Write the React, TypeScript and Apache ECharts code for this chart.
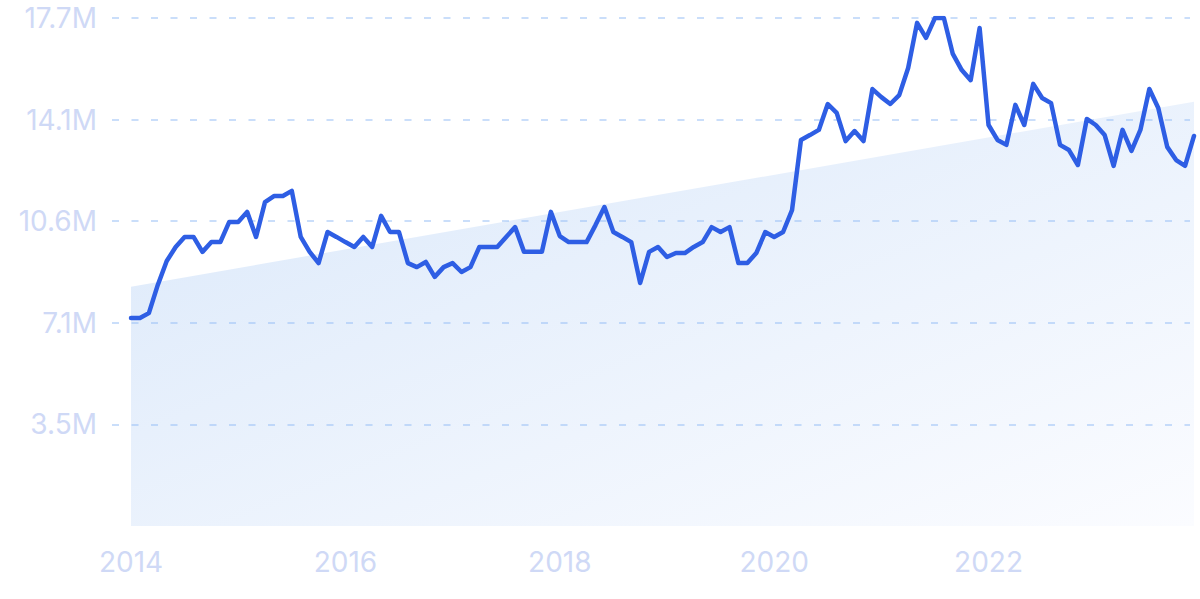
import React, { useEffect, useRef } from "react";
import * as echarts from "echarts";

// Monthly values (millions), Jan 2014 .. Dec 2023
const values: number[] = [
  7.23, 7.23, 7.4, 8.38, 9.21, 9.7, 10.05, 10.05, 9.53, 9.87, 9.87, 10.57,
  10.57, 10.92, 10.05, 11.26, 11.47, 11.47, 11.65, 10.05, 9.53, 9.14, 10.22, 10.05,
  9.87, 9.7, 10.05, 9.7, 10.78, 10.22, 10.22, 9.14, 9.0, 9.18, 8.66, 9.0,
  9.14, 8.83, 9.0, 9.7, 9.7, 9.7, 10.05, 10.39, 9.53, 9.53, 9.53, 10.92,
  10.08, 9.87, 9.87, 9.87, 10.46, 11.09, 10.22, 10.05, 9.87, 8.45, 9.53, 9.7,
  9.35, 9.49, 9.49, 9.7, 9.87, 10.39, 10.22, 10.39, 9.14, 9.14, 9.49, 10.22,
  10.05, 10.22, 10.98, 13.42, 13.59, 13.77, 14.67, 14.36, 13.38, 13.73, 13.38, 15.19,
  14.91, 14.67, 14.98, 15.92, 17.49, 16.97, 17.66, 17.66, 16.41, 15.85, 15.5, 17.31,
  13.94, 13.42, 13.25, 14.64, 13.94, 15.37, 14.88, 14.7, 13.25, 13.07, 12.55, 14.15,
  13.94, 13.59, 12.52, 13.77, 13.04, 13.77, 15.19, 14.53, 13.18, 12.72, 12.52, 13.56,
];

const startYear = 2014;
const categories: string[] = values.map((_, i) => {
  const y = startYear + Math.floor(i / 12);
  const m = (i % 12) + 1;
  return `${y}-${m < 10 ? "0" + m : m}`;
});

// Trend line endpoints (millions)
const trendStart = 8.32;
const trendEnd = 14.75;

const yMax = 17.66;
const yTickCount = 5;

const labelColor = "#cfd9f6";
const fontFamily = "Inter, 'Noto Sans', sans-serif";

export default function App() {
  const ref = useRef<HTMLDivElement>(null);

  useEffect(() => {
    document.body.style.margin = "0";
    if (!ref.current) return;
    const chart = echarts.init(ref.current, undefined, { renderer: "svg" });
    const last = values.length - 1;
    const trendData = values.map((_, i) =>
      i === 0 ? trendStart : i === last ? trendEnd : null
    );
    const interval = yMax / yTickCount;

    chart.setOption({
      animation: false,
      grid: [
        { left: 112, right: 10, top: 18, bottom: 73 },
        { left: 131, right: 6, top: 18, bottom: 73 },
      ],
      xAxis: [
        { type: "value", gridIndex: 0, show: false, min: 0, max: 1 },
        {
          type: "category",
          gridIndex: 1,
          data: categories,
          boundaryGap: false,
          axisLine: { show: false },
          axisTick: { show: false },
          splitLine: { show: false },
          axisLabel: {
            color: labelColor,
            fontSize: 28,
            fontFamily,
            margin: 22,
            interval: (idx: number) => idx % 24 === 0,
            formatter: (v: string) => v.slice(0, 4),
          },
        },
      ],
      yAxis: [
        {
          type: "value",
          gridIndex: 0,
          min: 0,
          max: yMax,
          interval,
          z: 2,
          axisLine: { show: false },
          axisTick: { show: false },
          splitLine: {
            show: true,
            showMinLine: false,
            lineStyle: {
              color: "rgba(150,190,245,0.5)",
              type: [7, 12.5],
              width: 2,
            },
          },
          axisLabel: {
            showMinLabel: false,
            color: labelColor,
            fontSize: 28,
            fontFamily,
            margin: 15,
            formatter: (v: number) => v.toFixed(1) + "M",
          },
        },
        {
          type: "value",
          gridIndex: 1,
          min: 0,
          max: yMax,
          show: false,
          splitLine: { show: false },
        },
      ],
      series: [
        {
          type: "line",
          xAxisIndex: 1,
          yAxisIndex: 1,
          data: trendData,
          connectNulls: true,
          symbol: "none",
          z: 1,
          lineStyle: { width: 0 },
          areaStyle: {
            opacity: 1,
            color: new echarts.graphic.LinearGradient(0, 0, 1, 1, [
              { offset: 0, color: "#dae8fa" },
              { offset: 1, color: "#fbfcff" },
            ]),
          },
        },
        {
          type: "line",
          xAxisIndex: 1,
          yAxisIndex: 1,
          data: values,
          symbol: "none",
          z: 3,
          lineStyle: { color: "#2e5ee4", width: 4.5, join: "round", cap: "round" },
        },
      ],
    });
    return () => chart.dispose();
  }, []);

  return (
    <div
      ref={ref}
      style={{ position: "absolute", left: 0, top: 0, width: 1200, height: 599 }}
    />
  );
}
